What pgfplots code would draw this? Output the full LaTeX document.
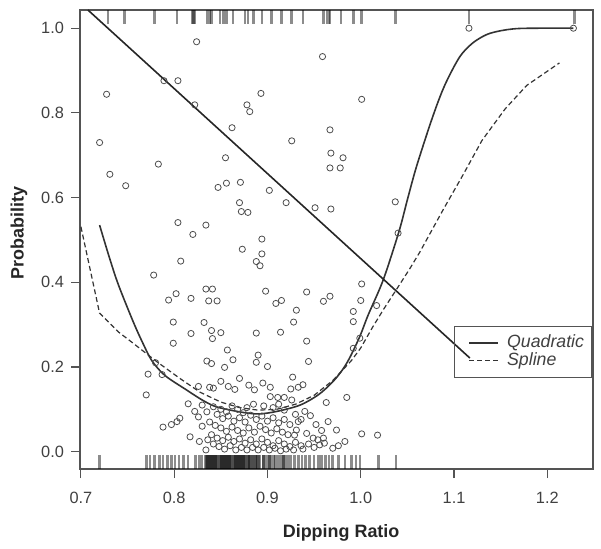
\documentclass[border=0pt]{standalone}
\usepackage{pgfplots}
\pgfplotsset{compat=1.18}
\usepackage{fontspec}
\setmainfont{Liberation Sans}
\definecolor{axgray}{gray}{0.33}
\definecolor{ptgray}{gray}{0.3}

\begin{document}
\begin{tikzpicture}
\begin{axis}[
    scale only axis,
    width=256.5bp, height=229.5bp,
    xmin=0.699, xmax=1.249,
    ymin=-0.041, ymax=1.043,
    axis line style={draw=axgray, line width=0.55pt},
    tick align=outside,
    xtick pos=lower, ytick pos=left,
    tick style={draw=axgray, line width=0.55pt},
    major tick length=4.5bp,
    xtick={0.7,0.8,0.9,1.0,1.1,1.2},
    xticklabels={0.7,0.8,0.9,1.0,1.1,1.2},
    ytick={0,0.2,0.4,0.6,0.8,1.0},
    yticklabels={0.0,0.2,0.4,0.6,0.8,1.0},
    ticklabel style={font=\fontsize{8.2}{9}\selectfont, text=black!75},
    xticklabel style={yshift=-3.5bp},
    xlabel={Dipping Ratio},
    ylabel={Probability},
    label style={font=\fontsize{9}{10}\selectfont\bfseries, text=black!85},
    x label style={at={(axis description cs:0.509,-0.1503)}, anchor=base},
    y label style={at={(axis description cs:-0.119,0.514)}, anchor=center},
    legend style={at={(axis description cs:0.729,0.3115)}, anchor=north west,
        draw=axgray, line width=0.55pt, fill=none,
        font=\itshape\fontsize{8.9}{9}\selectfont, text=black!75,
        inner xsep=3.5bp, inner ysep=3.9bp, column sep=3.8bp, row sep=0pt,
        nodes={inner sep=0.2bp, text height=6.5bp, text depth=1.9bp}},
    legend cell align=left,
    legend image code/.code={\path (0bp,0bp); \draw[#1] (3.5bp,0bp) -- (18bp,0bp);},
    rug/.style={forget plot, only marks, mark=|, mark size=3.5bp,
        mark options={draw=black, line width=1.3bp, draw opacity=0.45}},
]

% rug, y = 0 cases
\addplot[rug] table {
x y
0.720 -0.0245
0.770 -0.0245
0.774 -0.0245
0.779 -0.0245
0.784 -0.0245
0.788 -0.0245
0.793 -0.0245
0.797 -0.0245
0.801 -0.0245
0.805 -0.0245
0.810 -0.0245
0.815 -0.0245
0.823 -0.0245
0.827 -0.0245
0.830 -0.0245
0.833 -0.0245
0.834 -0.0245
0.835 -0.0245
0.836 -0.0245
0.837 -0.0245
0.838 -0.0245
0.839 -0.0245
0.840 -0.0245
0.841 -0.0245
0.842 -0.0245
0.843 -0.0245
0.844 -0.0245
0.845 -0.0245
0.846 -0.0245
0.847 -0.0245
0.848 -0.0245
0.849 -0.0245
0.850 -0.0245
0.851 -0.0245
0.852 -0.0245
0.853 -0.0245
0.854 -0.0245
0.855 -0.0245
0.856 -0.0245
0.857 -0.0245
0.858 -0.0245
0.859 -0.0245
0.860 -0.0245
0.861 -0.0245
0.862 -0.0245
0.863 -0.0245
0.864 -0.0245
0.865 -0.0245
0.866 -0.0245
0.867 -0.0245
0.868 -0.0245
0.869 -0.0245
0.870 -0.0245
0.871 -0.0245
0.872 -0.0245
0.873 -0.0245
0.874 -0.0245
0.875 -0.0245
0.876 -0.0245
0.877 -0.0245
0.878 -0.0245
0.879 -0.0245
0.880 -0.0245
0.881 -0.0245
0.882 -0.0245
0.884 -0.0245
0.885 -0.0245
0.887 -0.0245
0.888 -0.0245
0.889 -0.0245
0.891 -0.0245
0.892 -0.0245
0.895 -0.0245
0.896 -0.0245
0.898 -0.0245
0.901 -0.0245
0.902 -0.0245
0.904 -0.0245
0.907 -0.0245
0.908 -0.0245
0.910 -0.0245
0.913 -0.0245
0.916 -0.0245
0.917 -0.0245
0.919 -0.0245
0.922 -0.0245
0.925 -0.0245
0.929 -0.0245
0.933 -0.0245
0.937 -0.0245
0.941 -0.0245
0.945 -0.0245
0.950 -0.0245
0.955 -0.0245
0.958 -0.0245
0.962 -0.0245
0.966 -0.0245
0.970 -0.0245
0.976 -0.0245
0.983 -0.0245
0.990 -0.0245
0.995 -0.0245
0.999 -0.0245
1.019 -0.0245
1.038 -0.0245
};

% rug, y = 1 cases
\addplot[rug] table {
x y
0.729 1.0265
0.747 1.0265
0.779 1.0265
0.803 1.0265
0.819 1.0265
0.821 1.0265
0.822 1.0265
0.835 1.0265
0.838 1.0265
0.840 1.0265
0.849 1.0265
0.853 1.0265
0.856 1.0265
0.863 1.0265
0.876 1.0265
0.879 1.0265
0.885 1.0265
0.894 1.0265
0.904 1.0265
0.915 1.0265
0.926 1.0265
0.938 1.0265
0.960 1.0265
0.964 1.0265
0.966 1.0265
0.967 1.0265
0.979 1.0265
0.992 1.0265
1.001 1.0265
1.037 1.0265
1.116 1.0265
1.229 1.0265
};

% observed points
\addplot[forget plot, only marks, mark=o, mark size=1.55bp,
    mark options={draw=ptgray, line width=0.4pt}] table {
x y
0.824 0.968
0.7275 0.844
0.789 0.876
0.804 0.876
0.822 0.819
0.878 0.819
0.881 0.803
0.862 0.765
0.720 0.730
0.855 0.694
0.783 0.679
0.959 0.933
0.893 0.846
1.001 0.832
0.967 0.760
0.926 0.734
0.968 0.705
0.981 0.694
0.967 0.670
0.978 0.670
0.731 0.655
0.748 0.628
0.804 0.541
0.820 0.513
0.834 0.535
0.847 0.624
0.856 0.634
0.871 0.636
0.870 0.588
0.872 0.567
0.879 0.565
0.894 0.502
0.873 0.478
0.894 0.467
0.888 0.449
0.892 0.439
0.807 0.450
0.778 0.417
0.902 0.617
0.920 0.588
0.951 0.576
0.968 0.573
1.037 0.590
1.040 0.516
1.116 1.000
1.228 1.000
0.834 0.384
0.841 0.384
0.802 0.373
0.794 0.358
0.818 0.362
0.837 0.356
0.846 0.356
0.799 0.306
0.832 0.305
0.898 0.379
0.909 0.350
0.915 0.357
0.931 0.334
0.928 0.306
0.818 0.279
0.840 0.286
0.850 0.281
0.841 0.267
0.888 0.280
0.914 0.282
0.799 0.256
0.857 0.240
0.863 0.217
0.835 0.214
0.840 0.208
0.854 0.199
0.890 0.228
0.888 0.211
0.900 0.201
0.927 0.176
0.772 0.183
0.787 0.182
0.770 0.134
0.780 0.210
0.826 0.154
0.838 0.152
0.842 0.150
0.850 0.166
0.858 0.154
0.865 0.147
0.870 0.173
0.880 0.157
0.886 0.146
0.895 0.162
0.903 0.152
0.903 0.130
0.911 0.128
0.918 0.128
0.925 0.148
0.933 0.152
0.938 0.158
0.815 0.113
0.830 0.110
0.788 0.058
0.797 0.064
0.803 0.071
0.806 0.079
0.817 0.035
0.827 0.024
0.834 0.004
0.942 0.377
0.960 0.355
0.967 0.367
1.001 0.396
1.000 0.357
0.992 0.331
0.992 0.307
1.017 0.345
0.942 0.261
0.944 0.213
0.999 0.268
0.992 0.244
0.926 0.122
0.963 0.116
0.985 0.128
0.885 0.112
0.965 0.071
0.974 0.051
0.960 0.032
0.983 0.024
1.001 0.042
1.018 0.039
0.949 0.032
0.954 0.028
0.931 0.051
0.929 0.039
0.942 0.043
0.961 0.020
0.933 0.071
0.835 0.094
0.842 0.106
0.850 0.100
0.856 0.094
0.862 0.108
0.868 0.100
0.874 0.092
0.878 0.104
0.846 0.088
0.852 0.078
0.858 0.084
0.864 0.072
0.870 0.080
0.876 0.070
0.882 0.086
0.888 0.076
0.894 0.084
0.900 0.072
0.906 0.080
0.912 0.068
0.918 0.076
0.924 0.064
0.838 0.070
0.844 0.062
0.850 0.056
0.856 0.048
0.862 0.058
0.868 0.050
0.874 0.044
0.880 0.056
0.886 0.046
0.892 0.060
0.898 0.052
0.904 0.044
0.910 0.054
0.916 0.046
0.922 0.040
0.840 0.040
0.846 0.032
0.852 0.026
0.858 0.034
0.864 0.024
0.870 0.030
0.876 0.020
0.882 0.028
0.888 0.018
0.894 0.030
0.900 0.022
0.906 0.014
0.912 0.026
0.918 0.018
0.924 0.012
0.930 0.022
0.936 0.014
0.944 0.018
0.950 0.010
0.956 0.016
0.848 0.012
0.854 0.006
0.860 0.014
0.866 0.004
0.872 0.010
0.878 0.004
0.884 0.010
0.890 0.004
0.896 0.010
0.902 0.004
0.908 0.008
0.914 0.002
0.920 0.006
0.928 0.004
0.938 0.006
0.842 0.018
0.836 0.028
0.830 0.060
0.826 0.082
0.822 0.095
0.940 0.095
0.946 0.085
0.952 0.064
0.958 0.050
0.906 0.104
0.912 0.112
0.896 0.108
0.918 0.098
0.930 0.088
0.936 0.076
0.970 0.008
0.976 0.014
};

% quadratic fit
\addplot[draw=black!80, line width=0.8bp, smooth, tension=0.5] coordinates {
(0.720,0.535) (0.730,0.462) (0.740,0.395) (0.756,0.307) (0.766,0.258)
(0.776,0.215) (0.790,0.180) (0.813,0.146) (0.830,0.122) (0.845,0.106)
(0.870,0.094) (0.890,0.089) (0.910,0.095) (0.935,0.110) (0.955,0.135)
(0.970,0.165) (0.980,0.192) (0.988,0.221) (0.999,0.272) (1.008,0.323)
(1.024,0.405) (1.041,0.520) (1.050,0.595) (1.060,0.675) (1.077,0.790)
(1.090,0.865) (1.106,0.932) (1.120,0.965) (1.135,0.985) (1.150,0.994)
(1.167,0.999) (1.190,1.000) (1.228,1.000)
};
\addlegendentry{Quadratic}

% spline fit
\addplot[draw=black!80, line width=0.6bp, dash pattern=on 2.5bp off 1.5bp] coordinates {
(0.700,0.531) (0.720,0.327) (0.740,0.283) (0.756,0.256) (0.781,0.213)
(0.806,0.173) (0.828,0.140) (0.850,0.117) (0.870,0.104) (0.890,0.098)
(0.910,0.100) (0.930,0.112) (0.950,0.133) (0.970,0.168) (0.990,0.215)
(1.000,0.245) (1.013,0.295) (1.025,0.338) (1.038,0.382) (1.052,0.430)
(1.063,0.470) (1.088,0.570) (1.110,0.655) (1.130,0.735) (1.155,0.810)
(1.178,0.865) (1.213,0.918)
};
\addlegendentry{Spline}

% straight line
\addplot[forget plot, draw=black!85, line width=0.8bp] coordinates {
(0.7075,1.043) (1.117,0.221)
};

\end{axis}
\path ([xshift=-40bp,yshift=-40bp]current axis.south west) rectangle ([xshift=4bp,yshift=5bp]current axis.north east);
\end{tikzpicture}
\end{document}
